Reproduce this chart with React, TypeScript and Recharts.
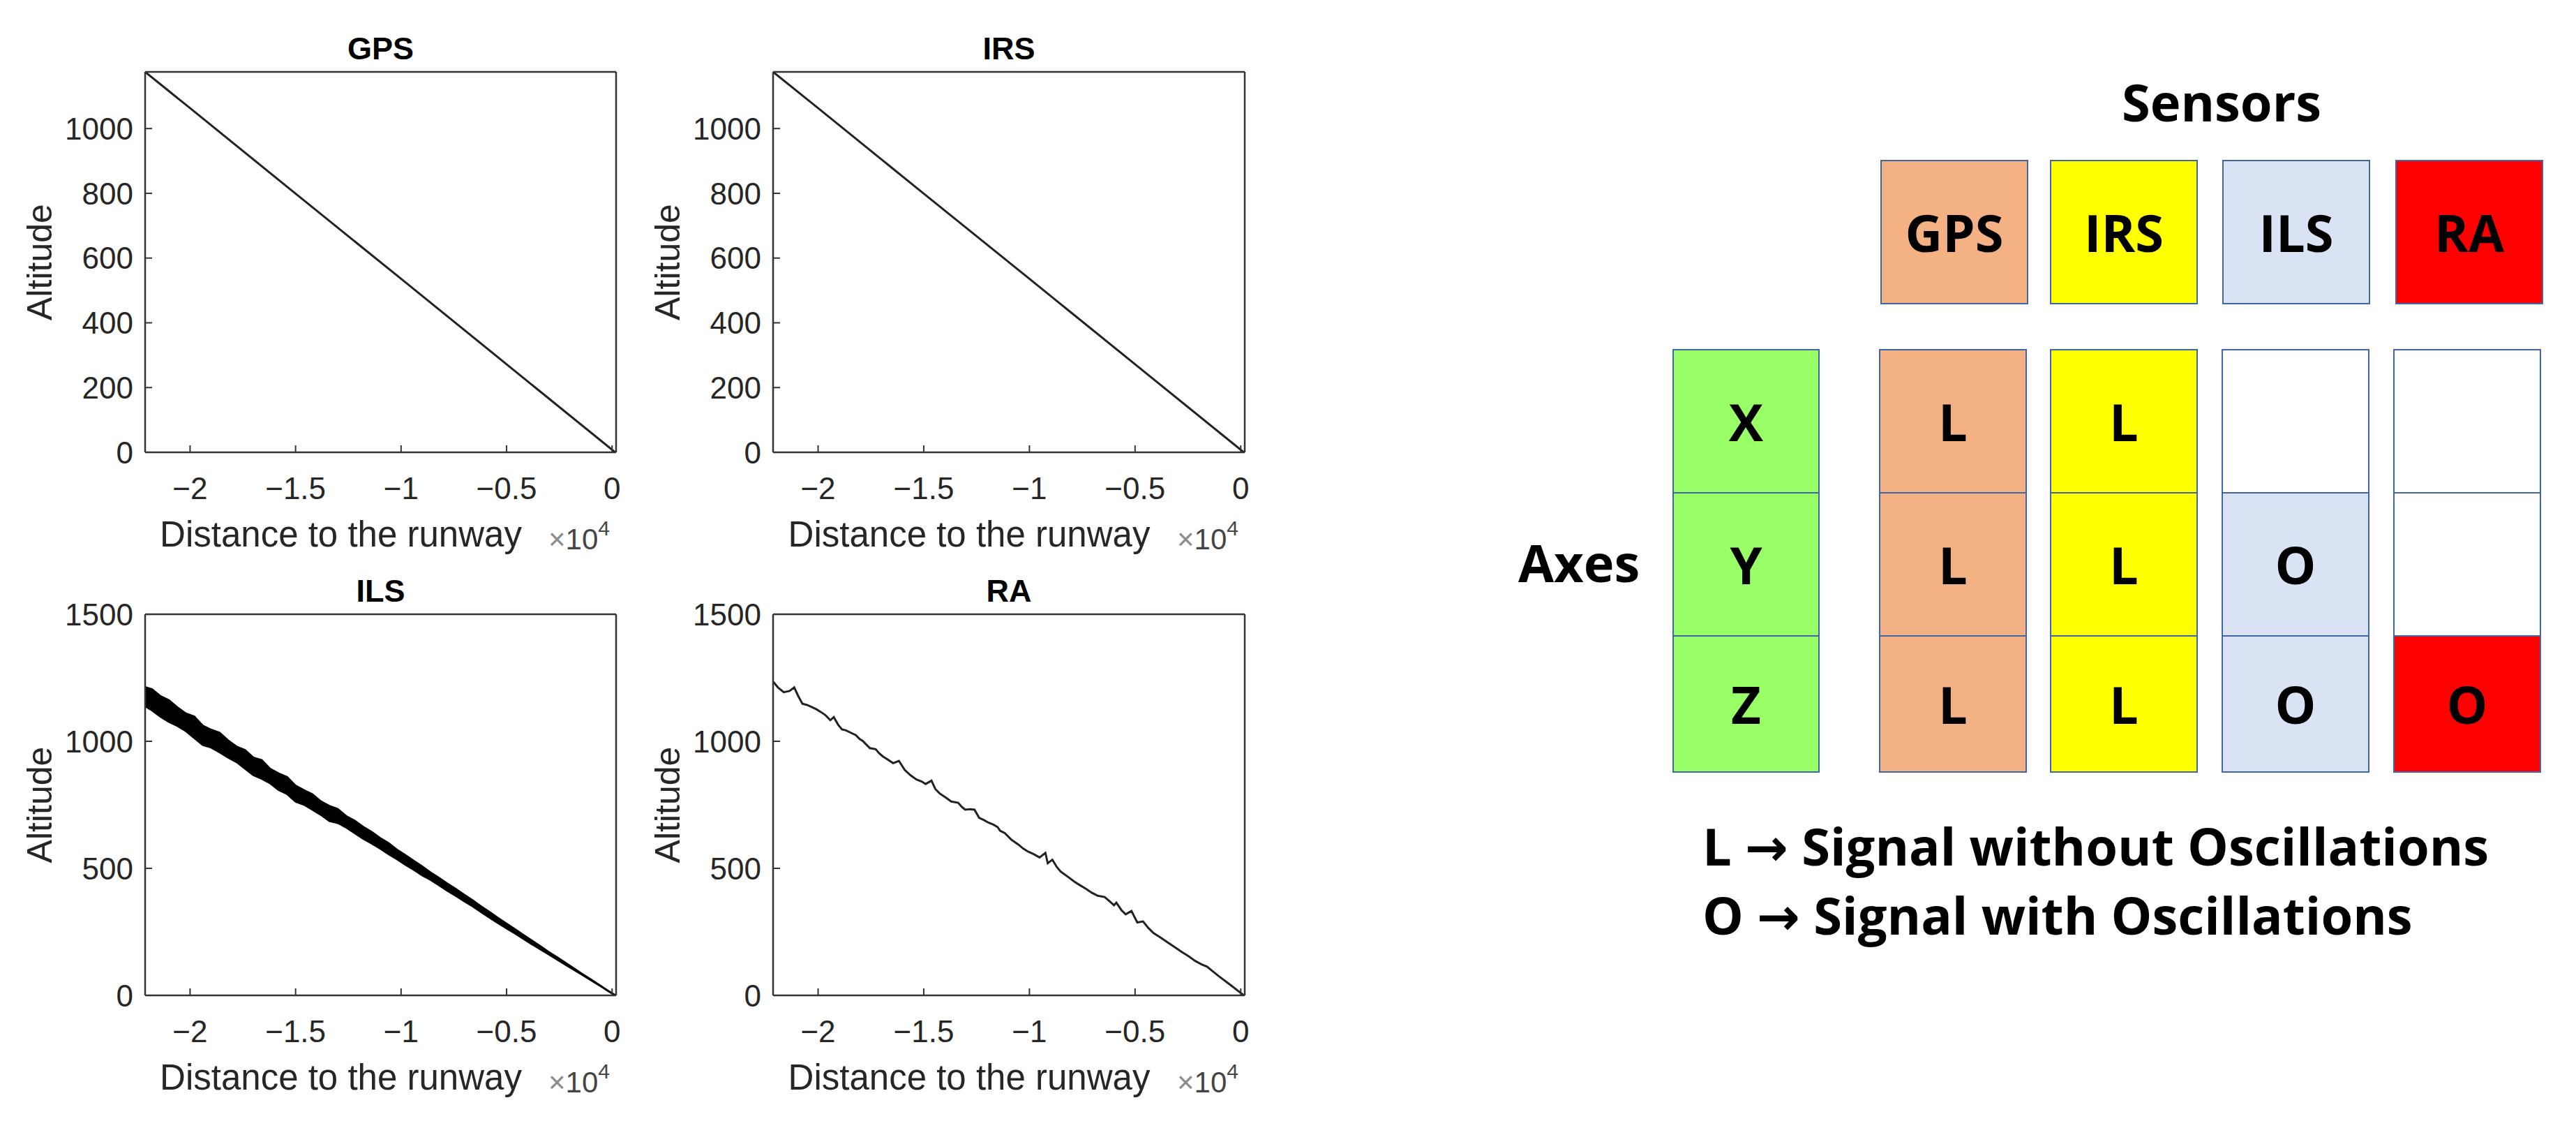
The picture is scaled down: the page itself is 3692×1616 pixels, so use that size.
import { ComposedChart, Line, Area, XAxis, YAxis, Label } from 'recharts';

// ---- data ----
const xTicks = [-20000, -15000, -10000, -5000, 0];
const smallAltTicks = [0, 200, 400, 600, 800, 1000];
const bigAltTicks = [0, 500, 1000, 1500];

const gpsDistance = [-22130, -20000, -15000, -10000, -5000, 150];
const gpsAltitude = [1175, 1063, 799, 536, 272, 0];

const irsDistance = [-22130, -20000, -15000, -10000, -5000, 150];
const irsAltitude = [1175, 1063, 799, 536, 272, 0];

// ILS: noisy band, upper and lower envelope
const ilsDistance = [
  -22130, -21800, -21400, -21000, -20600, -20200, -19800, -19400, -19000, -18600,
  -18200, -17800, -17400, -17000, -16600, -16200, -15800, -15400, -15000, -14600,
  -14200, -13800, -13400, -13000, -12600, -12200, -11800, -11400, -11000, -10600,
  -10200, -9800, -9400, -9000, -8600, -8200, -7800, -7400, -7000, -6600,
  -6200, -5800, -5400, -5000, -4600, -4200, -3800, -3400, -3000, -2600,
  -2200, -1800, -1400, -1000, -600, -200, 150,
];
const ilsHigh = [
  1214, 1205, 1178, 1162, 1134, 1110, 1098, 1062, 1046, 1034,
  1004, 980, 966, 936, 926, 892, 874, 860, 826, 808,
  792, 764, 746, 734, 706, 688, 664, 644, 620, 600,
  574, 553, 530, 508, 484, 463, 440, 419, 396, 374,
  350, 328, 305, 283, 261, 238, 216, 194, 171, 150,
  128, 106, 84, 63, 41, 19, 1,
];
const ilsLow = [
  1138, 1121, 1096, 1076, 1060, 1040, 1012, 985, 975, 956,
  936, 918, 892, 866, 852, 834, 808, 792, 762, 750,
  730, 710, 686, 678, 660, 638, 616, 598, 578, 556,
  536, 514, 494, 472, 454, 433, 411, 391, 370, 350,
  327, 305, 284, 263, 243, 222, 201, 181, 161, 140,
  120, 100, 80, 59, 39, 17, 0,
];

const raDistance = [
  -22130, -21900, -21625, -21350, -21130, -20950, -20743, -20520, -20303, -20080,
  -19862, -19640, -19422, -19257, -19050, -18871, -18680, -18486, -18211, -18050,
  -17880, -17550, -17275, -17100, -16945, -16700, -16450, -16175, -15900, -15620,
  -15350, -15100, -14910, -14635, -14450, -14250, -13950, -13700, -13370, -13200,
  -13040, -12800, -12600, -12380, -12150, -11940, -11700, -11500, -11390, -11168,
  -10840, -10510, -10300, -10068, -9800, -9518, -9243, -9133, -8913, -8700,
  -8527, -8200, -7866, -7600, -7316, -7050, -6766, -6436, -6200, -5996,
  -5886, -5650, -5446, -5171, -4895, -4620, -4380, -4125, -3800, -3464,
  -3130, -2804, -2450, -2143, -1850, -1593, -1300, -1043, -500, 150,
];
const raAltitude = [
  1235, 1212, 1193, 1198, 1212, 1180, 1148, 1143, 1135, 1126,
  1115, 1102, 1083, 1095, 1065, 1047, 1043, 1035, 1024, 1010,
  1001, 973, 969, 952, 941, 928, 914, 923, 887, 866,
  850, 842, 832, 845, 812, 795, 778, 763, 758, 742,
  731, 733, 731, 699, 690, 680, 672, 662, 648, 639,
  612, 593, 578, 566, 556, 543, 561, 520, 534, 505,
  488, 468, 447, 433, 419, 404, 392, 387, 370, 355,
  365, 336, 319, 332, 287, 291, 266, 245, 228, 209,
  190, 172, 153, 135, 122, 113, 93, 76, 42, 0,
];

const sensorNames = ['GPS', 'IRS', 'ILS', 'RA'];
const sensorColors = ['#F4B183', '#FFFF00', '#DAE3F3', '#FF0000'];
const axisNames = ['X', 'Y', 'Z'];
// rows X, Y, Z ; columns GPS, IRS, ILS, RA ('' = empty white cell)
const signalRows = [
  ['L', 'L', '', ''],
  ['L', 'L', 'O', ''],
  ['L', 'L', 'O', 'O'],
];
const legendLines = ['L \u2192 Signal without Oscillations', 'O \u2192 Signal with Oscillations'];

// ---- layout ----
const X_DOMAIN: [number, number] = [-22130, 190];
const PAD_L = 200;
const PAD_T = 90;
const PAD_R = 30;
const PAD_B = 150;
const PLOT_FONT = "'Liberation Sans', Arial, sans-serif";
const BOX_FONT = "'Open Sans', 'DejaVu Sans', sans-serif";
const INK = '#262626';

const fmtX = (v: number) => (v === 0 ? '0' : String(v / 1e4).replace('-', '\u2212'));

const gpsData = gpsDistance.map((d, i) => ({ d, alt: gpsAltitude[i] }));
const irsData = irsDistance.map((d, i) => ({ d, alt: irsAltitude[i] }));
const ilsData = ilsDistance.map((d, i) => ({ d, band: [ilsLow[i], ilsHigh[i]] }));
const raData = raDistance.map((d, i) => ({ d, alt: raAltitude[i] }));

interface PanelProps {
  title: string;
  left: number;
  top: number;
  plotW: number;
  plotH: number;
  yMax: number;
  yTicks: number[];
  data: object[];
  band?: boolean;
}

function Panel({ title, left, top, plotW, plotH, yMax, yTicks, data, band }: PanelProps) {
  const W = plotW + PAD_L + PAD_R;
  const H = plotH + PAD_T + PAD_B;
  const bottom = PAD_T + plotH;
  const right = PAD_L + plotW;
  const axisLine = { stroke: '#333', strokeWidth: 2.5 };
  const tickLine = { stroke: '#333', strokeWidth: 2 };
  const tick = { fill: INK, fontSize: 44, fontFamily: PLOT_FONT };

  return (
    <div style={{ position: 'absolute', left: left - PAD_L, top: top - PAD_T }}>
      <ComposedChart
        width={W}
        height={H}
        data={data}
        margin={{ top: PAD_T - 1, right: PAD_R - 1, bottom: 0, left: 0 }}
      >
        <XAxis
          xAxisId="b"
          type="number"
          dataKey="d"
          domain={X_DOMAIN}
          ticks={xTicks}
          interval={0}
          allowDataOverflow
          tickFormatter={fmtX}
          height={PAD_B}
          tickSize={-10}
          tickMargin={46}
          tick={tick}
          axisLine={axisLine}
          tickLine={tickLine}
        >
          <Label
            content={() => (
              <g fontFamily={PLOT_FONT}>
                <text
                  x={PAD_L + plotW / 2}
                  y={PAD_T - 18}
                  textAnchor="middle"
                  fontWeight="bold"
                  fontSize={45}
                  fill="#000"
                >
                  {title}
                </text>
                <text x={PAD_L + plotW / 2 - 57} y={bottom + 135} textAnchor="middle" fontSize={51} fill={INK}>
                  Distance to the runway
                </text>
                <text x={right - 97} y={bottom + 139} fontSize={42} fill="#444">
                  <tspan fill="#8c8c8c">{'\u00d7'}</tspan>
                  <tspan>10</tspan>
                  <tspan dy={-20} fontSize={30}>4</tspan>
                </text>
              </g>
            )}
          />
        </XAxis>
        <XAxis
          xAxisId="t"
          orientation="top"
          type="number"
          dataKey="d"
          domain={X_DOMAIN}
          ticks={xTicks}
          interval={0}
          allowDataOverflow
          height={1}
          tickSize={-10}
          tick={false}
          axisLine={axisLine}
          tickLine={tickLine}
        />
        <YAxis
          yAxisId="l"
          type="number"
          domain={[0, yMax]}
          ticks={yTicks}
          interval={0}
          allowDataOverflow
          width={PAD_L}
          tickSize={-10}
          tickMargin={27}
          tick={tick}
          axisLine={axisLine}
          tickLine={tickLine}
        >
          <Label
            content={() => (
              <text
                x={PAD_L - 134}
                y={PAD_T + plotH / 2}
                transform={`rotate(-90 ${PAD_L - 134} ${PAD_T + plotH / 2})`}
                textAnchor="middle"
                fontFamily={PLOT_FONT}
                fontSize={50}
                fill={INK}
              >
                Altitude
              </text>
            )}
          />
        </YAxis>
        <YAxis
          yAxisId="r"
          orientation="right"
          type="number"
          domain={[0, yMax]}
          ticks={yTicks}
          interval={0}
          allowDataOverflow
          width={1}
          tickSize={-10}
          tick={false}
          axisLine={axisLine}
          tickLine={tickLine}
        />
        {band ? (
          <Area
            xAxisId="b"
            yAxisId="l"
            type="linear"
            dataKey="band"
            stroke="#000"
            strokeWidth={2.5}
            fill="#000"
            fillOpacity={1}
            dot={false}
            activeDot={false}
            isAnimationActive={false}
          />
        ) : (
          <Line
            xAxisId="b"
            yAxisId="l"
            type="linear"
            dataKey="alt"
            stroke="#222"
            strokeWidth={3}
            dot={false}
            activeDot={false}
            isAnimationActive={false}
          />
        )}
      </ComposedChart>
    </div>
  );
}

// sensor table geometry
const headTop = 229;
const headH = 207;
const headLefts = [2695, 2938, 3185, 3433];
const cellLefts = [2693, 2938, 3184, 3430];
const cellW = 212;
const rowTops = [500, 705, 910];
const rowHs = [207, 207, 197];
const axisColLeft = 2397;
const BORDER = '2.5px solid #4166A8';

const boxText: React.CSSProperties = {
  position: 'absolute',
  boxSizing: 'border-box',
  display: 'flex',
  alignItems: 'center',
  justifyContent: 'center',
  border: BORDER,
  fontFamily: BOX_FONT,
  fontWeight: 700,
  fontSize: 74,
  color: '#000',
  lineHeight: '74px',
};

function SensorTable() {
  return (
    <>
      <div
        style={{
          position: 'absolute',
          left: 2984,
          top: 109,
          width: 400,
          textAlign: 'center',
          fontFamily: BOX_FONT,
          fontWeight: 700,
          fontSize: 74,
          lineHeight: '74px',
        }}
      >
        Sensors
      </div>
      {sensorNames.map((name, i) => (
        <div
          key={name}
          style={{ ...boxText, left: headLefts[i], top: headTop, width: cellW, height: headH, background: sensorColors[i] }}
        >
          {name}
        </div>
      ))}
      <div
        style={{
          position: 'absolute',
          left: 2176,
          top: 769,
          fontFamily: BOX_FONT,
          fontWeight: 700,
          fontSize: 74,
          lineHeight: '74px',
        }}
      >
        Axes
      </div>
      {axisNames.map((a, r) => (
        <div
          key={a}
          style={{ ...boxText, left: axisColLeft, top: rowTops[r], width: cellW - 1, height: rowHs[r], background: '#99FF66' }}
        >
          {a}
        </div>
      ))}
      {signalRows.map((row, r) =>
        row.map((v, c) => (
          <div
            key={`${r}-${c}`}
            style={{
              ...boxText,
              left: cellLefts[c],
              top: rowTops[r],
              width: cellW,
              height: rowHs[r],
              background: v ? sensorColors[c] : '#fff',
            }}
          >
            {v}
          </div>
        )),
      )}
      {legendLines.map((t, i) => (
        <div
          key={t}
          style={{
            position: 'absolute',
            left: 2440,
            top: 1175 + i * 99,
            whiteSpace: 'nowrap',
            fontFamily: BOX_FONT,
            fontWeight: 700,
            fontSize: 74,
            lineHeight: '74px',
          }}
        >
          {t}
        </div>
      ))}
    </>
  );
}

export default function App() {
  return (
    <div
      style={{
        position: 'absolute',
        left: 0,
        top: 0,
        width: 3692,
        height: 1616,
        background: '#fff',
        overflow: 'hidden',
      }}
    >
      <Panel title="GPS" left={208} top={103} plotW={675} plotH={545} yMax={1175} yTicks={smallAltTicks} data={gpsData} />
      <Panel title="IRS" left={1108} top={103} plotW={676} plotH={545} yMax={1175} yTicks={smallAltTicks} data={irsData} />
      <Panel title="ILS" left={208} top={880} plotW={675} plotH={546} yMax={1500} yTicks={bigAltTicks} data={ilsData} band />
      <Panel title="RA" left={1108} top={880} plotW={676} plotH={546} yMax={1500} yTicks={bigAltTicks} data={raData} />
      <SensorTable />
    </div>
  );
}
